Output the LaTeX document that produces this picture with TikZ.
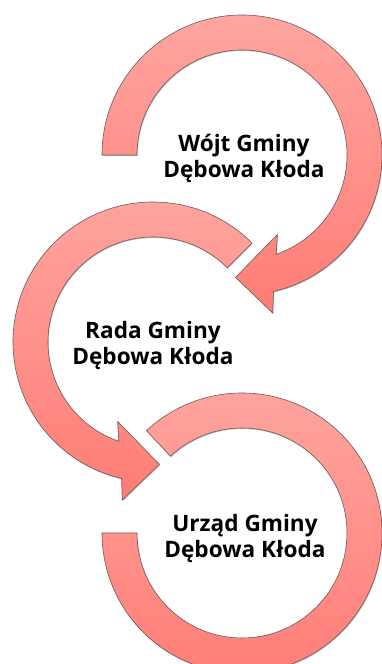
\documentclass[tikz,border=0pt]{standalone}
\usepackage{fontspec}
\setmainfont{Open Sans}
\usetikzlibrary{shadows}
\definecolor{arrtop}{HTML}{FFA59F}
\definecolor{arrbot}{HTML}{FF7D76}
\definecolor{arredge}{HTML}{6E5A5A}
\tikzset{
  ringarrow/.style={top color=arrtop, bottom color=arrbot, draw=arredge, line width=0.6pt, line join=miter,
    drop shadow={shadow xshift=0.6pt, shadow yshift=-1.0pt, opacity=0.25, fill=black}},
  label/.style={align=center, font=\bfseries\fontsize{22.6}{26}\selectfont, text=black, inner sep=0pt}
}
\begin{document}
\begin{tikzpicture}[x=1pt,y=1pt]
\useasboundingbox (0,0) rectangle (382,664);
\coordinate (c1) at (242,509);
\coordinate (c2) at (153,322);
\coordinate (c3) at (242,131);
% arrow 1 (clockwise, from left over the top)
\path[ringarrow] ([shift={(180:140)}]c1) arc[start angle=180, end angle=-77, radius=140]
  -- ([shift={(-79:161)}]c1) -- ([shift={(-93:122.5)}]c1) -- ([shift={(-66:87)}]c1)
  -- ([shift={(-71:105)}]c1) arc[start angle=-71, end angle=180, radius=105] -- cycle;
% arrow 2 (counter-clockwise)
\path[ringarrow] ([shift={(45:140)}]c2) arc[start angle=45, end angle=257, radius=140]
  -- ([shift={(259:161)}]c2) -- ([shift={(273:122.5)}]c2) -- ([shift={(246:87)}]c2)
  -- ([shift={(251:105)}]c2) arc[start angle=251, end angle=45, radius=105] -- cycle;
% arc 3
\path[ringarrow] ([shift={(133:140)}]c3) arc[start angle=133, end angle=-180, radius=140]
  -- ([shift={(180:105)}]c3) arc[start angle=-180, end angle=133, radius=105] -- cycle;
\node[label] (t1) at (244,506) {Wójt Gminy\\Dębowa Kłoda};
\node[label] (t2) at (153,318) {Rada Gminy\\Dębowa Kłoda};
\node[label] (t3) at (245,125) {Urząd Gminy\\Dębowa Kłoda};
\end{tikzpicture}
\end{document}
